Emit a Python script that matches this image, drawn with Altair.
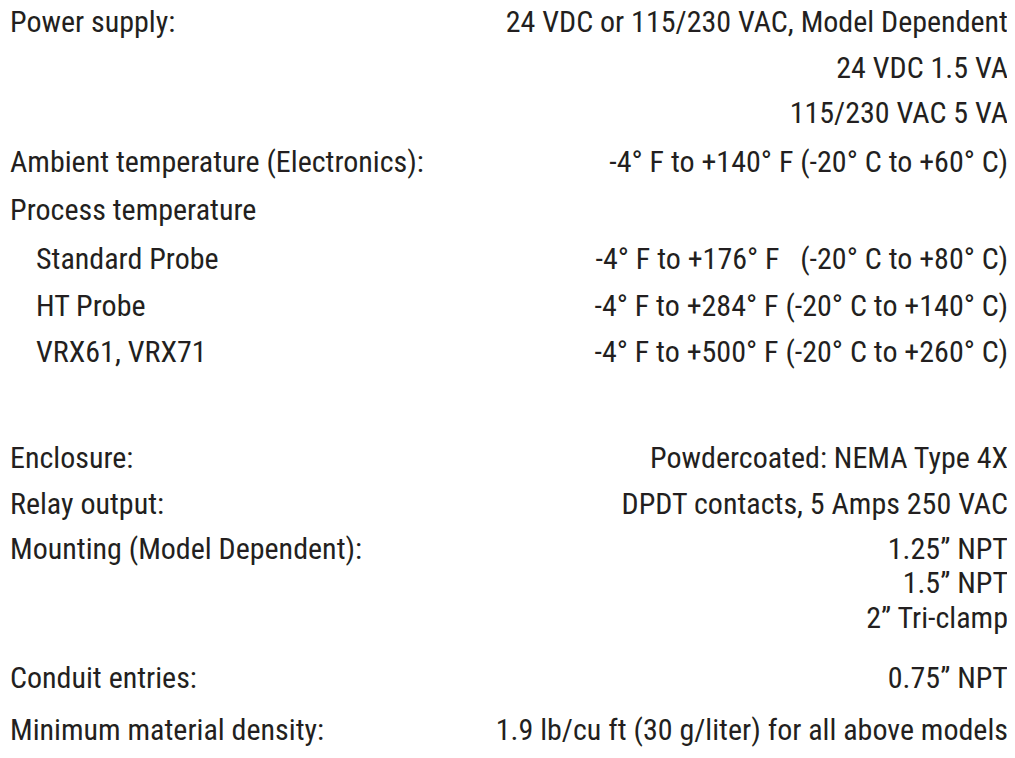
import altair as alt
import pandas as pd

# Table content, top to bottom
labels = [
    "Power supply:", "", "",
    "Ambient temperature (Electronics):",
    "Process temperature",
    "Standard Probe", "HT Probe", "VRX61, VRX71",
    "Enclosure:", "Relay output:",
    "Mounting (Model Dependent):", "", "",
    "Conduit entries:",
    "Minimum material density:",
]
indent = [0, 0, 0, 0, 0, 1, 1, 1, 0, 0, 0, 0, 0, 0, 0]
values = [
    "24 VDC or 115/230 VAC, Model Dependent",
    "24 VDC 1.5 VA",
    "115/230 VAC 5 VA",
    "-4° F to +140° F (-20° C to +60° C)",
    "",
    "-4° F to +176° F\u00a0\u00a0\u00a0(-20° C to +80° C)",
    "-4° F to +284° F (-20° C to +140° C)",
    "-4° F to +500° F (-20° C to +260° C)",
    "Powdercoated: NEMA Type 4X",
    "DPDT contacts, 5 Amps 250 VAC",
    "1.25\u201d NPT",
    "1.5\u201d NPT",
    "2\u201d Tri-clamp",
    "0.75\u201d NPT",
    "1.9 lb/cu ft (30 g/liter) for all above models",
]
# line number of each table row
lines = [0, 1, 1.98, 3.04, 4.09, 5.15, 6.17, 7.17, 9.48, 10.48, 11.46, 12.2, 12.96, 14.26, 15.39]

df = pd.DataFrame({"label": labels, "indent": indent, "value": values, "line": lines})

FONT = "Roboto Condensed, Liberation Sans Narrow, Arial Narrow, sans-serif"
COLOR = "#231f20"
SIZE = 30

yenc = alt.Y("line:Q", scale=alt.Scale(domain=[0, 16], range=[18, 754]), axis=None)

base = alt.Chart(df)

left = base.transform_filter(alt.datum.label != "").mark_text(
    align="left", baseline="alphabetic", font=FONT, fontSize=SIZE, color=COLOR
).encode(
    x=alt.X("indent:Q", scale=alt.Scale(domain=[0, 1], range=[2, 28]), axis=None),
    y=yenc,
    text="label:N",
)

right = base.transform_filter(alt.datum.value != "").mark_text(
    align="right", baseline="alphabetic", font=FONT, fontSize=SIZE, color=COLOR
).encode(
    x=alt.value(1000),
    y=yenc,
    text="value:N",
)

chart = alt.layer(left, right).properties(
    width=999, height=736,
    background="white",
    padding={"top": 6, "left": 0, "right": 0, "bottom": 0},
    autosize=alt.AutoSizeParams(type="none"),
).configure_view(stroke=None, strokeWidth=0)

chart.save("out.html", embed_options={"renderer": "svg", "actions": False})
